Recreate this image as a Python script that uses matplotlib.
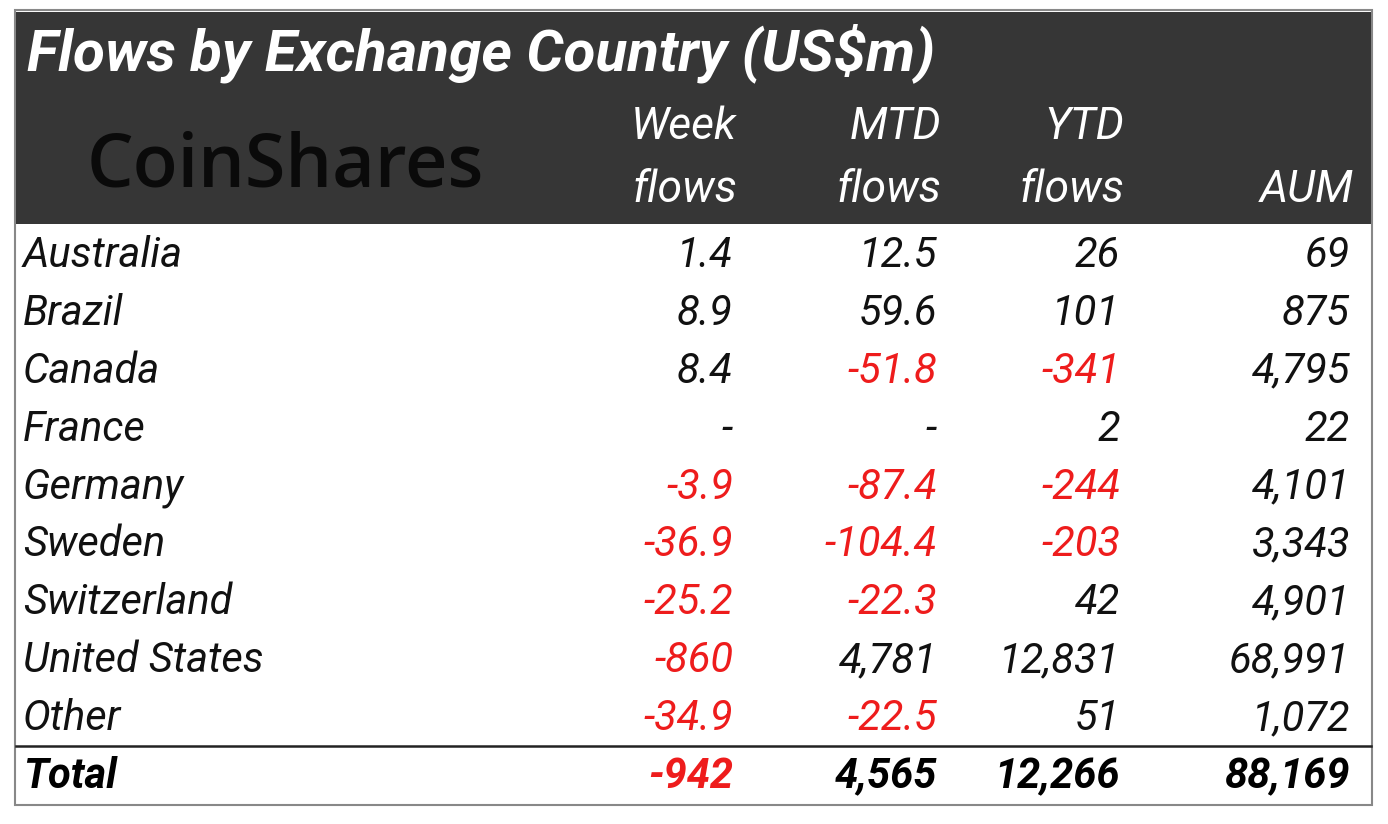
import matplotlib.pyplot as plt
from matplotlib.patches import Rectangle

# Table data (US$m)
countries = ["Australia", "Brazil", "Canada", "France", "Germany", "Sweden",
             "Switzerland", "United States", "Other"]
week = ["1.4", "8.9", "8.4", "-", "-3.9", "-36.9", "-25.2", "-860", "-34.9"]
mtd = ["12.5", "59.6", "-51.8", "-", "-87.4", "-104.4", "-22.3", "4,781", "-22.5"]
ytd = ["26", "101", "-341", "2", "-244", "-203", "42", "12,831", "51"]
aum = ["69", "875", "4,795", "22", "4,101", "3,343", "4,901", "68,991", "1,072"]
totals = ["-942", "4,565", "12,266", "88,169"]

header_top = ["Week", "MTD", "YTD", ""]
header_bottom = ["flows", "flows", "flows", "AUM"]

RED = "#ee1c1c"
DARK = "#363636"
FONT = ["Roboto", "DejaVu Sans"]

fig = plt.figure(figsize=(13.88, 8.24), dpi=100)
ax = fig.add_axes([0, 0, 1, 1])
ax.set_xlim(0, 1388)
ax.set_ylim(824, 0)
ax.axis("off")

# frame and header band
ax.add_patch(Rectangle((15, 10), 1357, 795, facecolor="white", edgecolor="#888888", lw=1.5))
ax.add_patch(Rectangle((16, 12), 1355, 212, facecolor=DARK, edgecolor="none"))

ax.text(27, 53, "Flows by Exchange Country (US$m)", color="white", fontsize=42,
        fontweight="bold", style="italic", va="center", ha="left", family=FONT)
ax.text(285, 167, "CoinShares", color="#0a0a0a", fontsize=53, fontweight="semibold",
        va="center", ha="center", family=["Open Sans", "DejaVu Sans"])

col_x = [733, 937, 1120, 1350]
for x, top, bot in zip(col_x, header_top, header_bottom):
    if top:
        ax.text(x + 4, 127, top, color="white", fontsize=32, style="italic",
                ha="right", va="center", family=FONT)
    ax.text(x + 4, 190, bot, color="white", fontsize=32, style="italic",
            ha="right", va="center", family=FONT)

row_y0, row_h = 255, 58
for i, name in enumerate(countries):
    y = row_y0 + i * row_h
    ax.text(23, y, name, fontsize=30, style="italic", ha="left", va="center",
            family=FONT, color="#111111")
    for x, val in zip(col_x, [week[i], mtd[i], ytd[i], aum[i]]):
        c = RED if val.startswith("-") and val != "-" else "#111111"
        ax.text(x, y, val, fontsize=30, style="italic", ha="right", va="center",
                family=FONT, color=c)

# separator and total row
ax.plot([16, 1371], [746, 746], color="#222222", lw=1.8)
ty = row_y0 + len(countries) * row_h
ax.text(23, ty, "Total", fontsize=30, style="italic", fontweight="bold", ha="left",
        va="center", family=FONT, color="black")
for x, val in zip(col_x, totals):
    c = RED if val.startswith("-") else "black"
    ax.text(x, ty, val, fontsize=30, fontweight="bold", style="italic", ha="right",
            va="center", family=FONT, color=c)

fig.savefig("out.png", dpi=100)
